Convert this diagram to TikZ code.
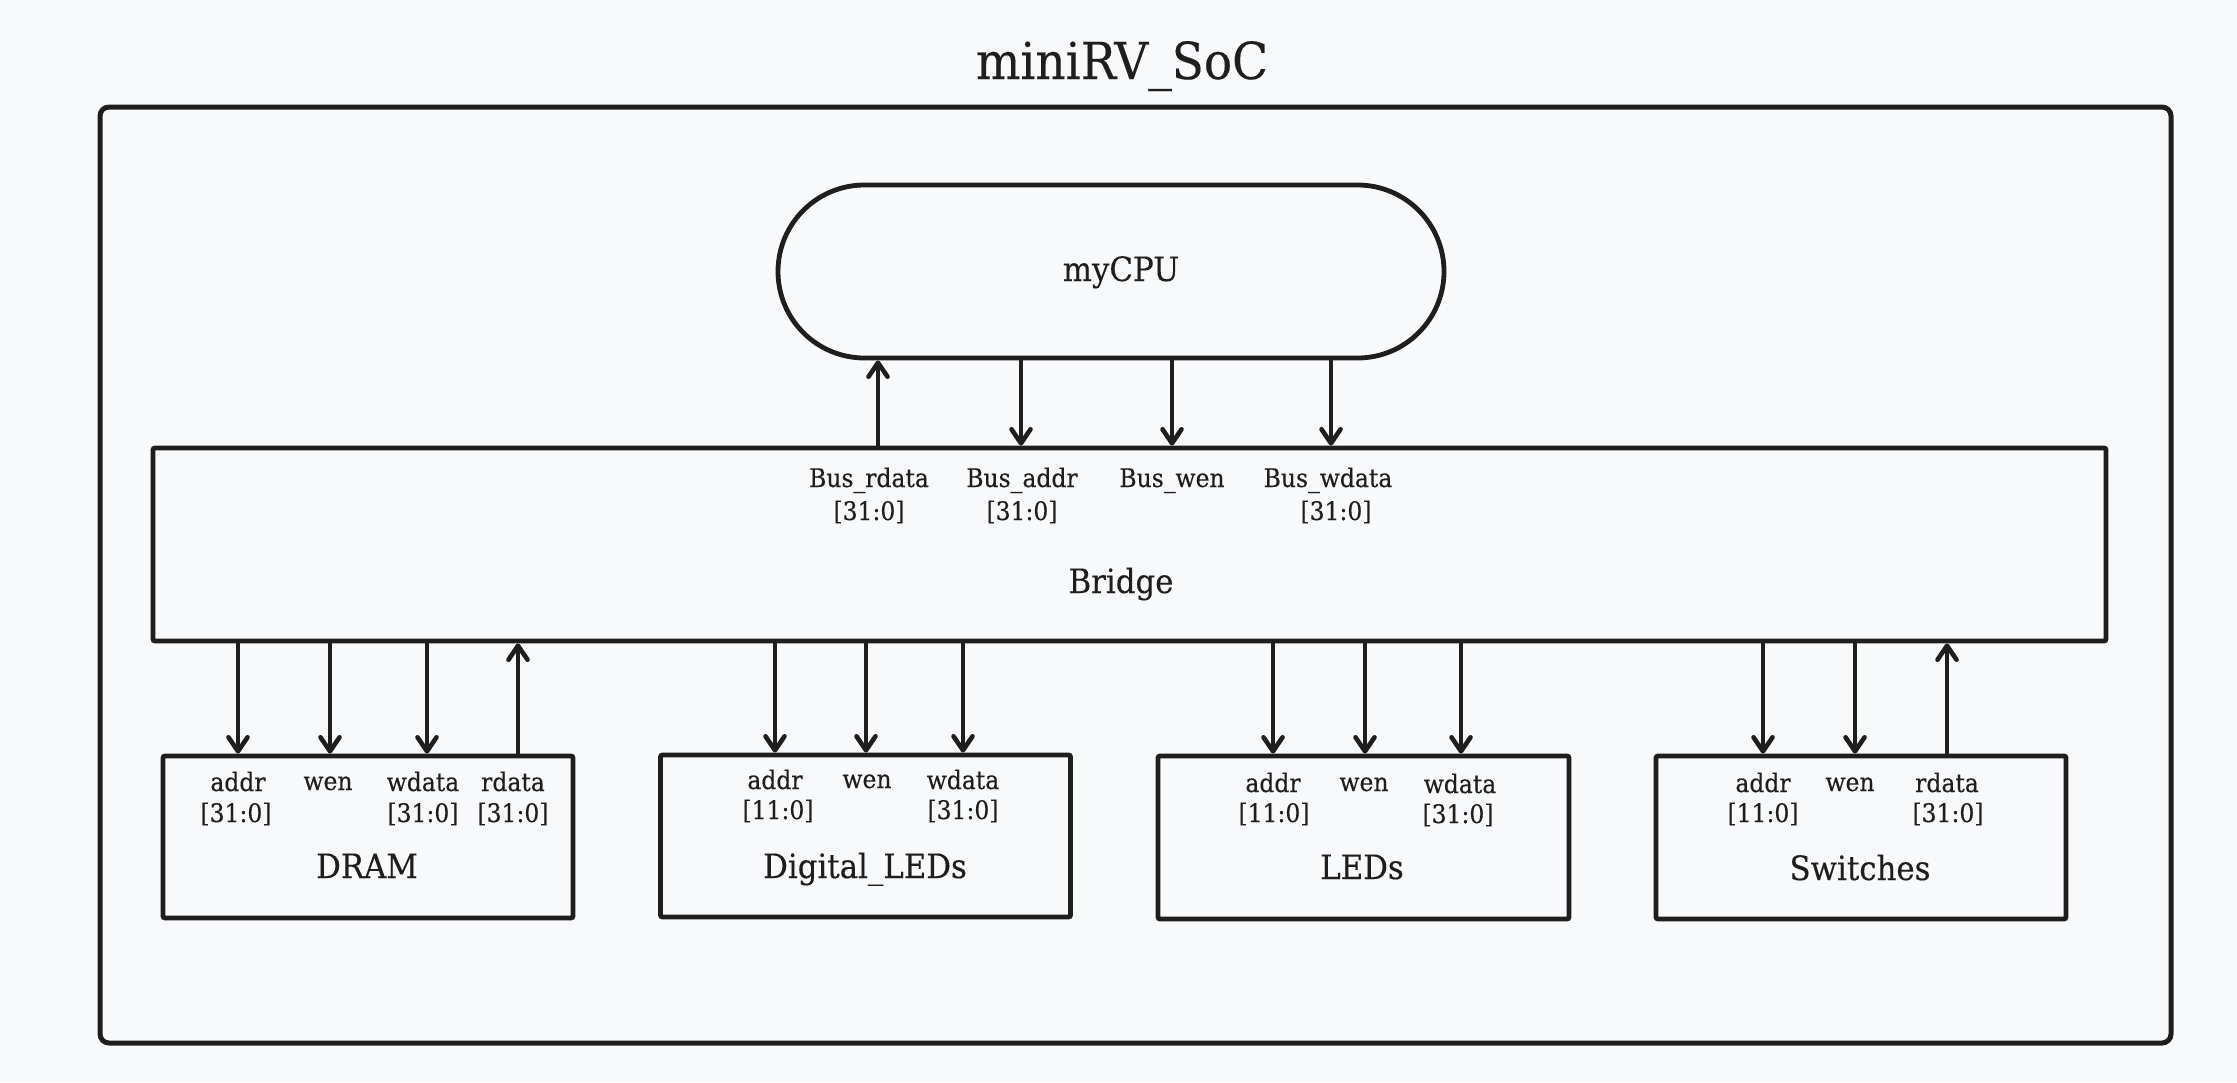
\documentclass[tikz,border=0pt]{standalone}
\usepackage{fontspec}
\setmainfont{DejaVu Serif}[FakeStretch=0.92,FakeBold=0.3]
\usetikzlibrary{arrows.meta}
\definecolor{ink}{HTML}{1E1E1E}
\definecolor{bg}{HTML}{F8F9FB}
\begin{document}
\begin{tikzpicture}[x=1pt,y=-1pt,
  box/.style={draw=ink, line width=4.8pt, rounded corners=2pt, inner sep=0pt},
  main/.style={font=\fontsize{33.5}{38}\selectfont, text=ink, anchor=base, inner sep=0pt},
  port/.style={font=\fontsize{25.5}{30}\selectfont, text=ink, anchor=base, inner sep=0pt},
  arr/.style={draw=ink, line width=4.6pt, -{Straight Barb[length=14pt,width=19pt,round]}}]
\fill[bg] (0,0) rectangle (2237,1082);
\useasboundingbox (0,0) rectangle (2237,1082);

% frame and title
\node[draw=ink, line width=5pt, rounded corners=9pt, minimum width=2071pt, minimum height=936pt, inner sep=0pt] (frame) at (1135.5,575) {};
\node[main, font=\fontsize{51}{56}\selectfont] (title) at (1122,79) {miniRV\_SoC};

% main blocks
\node[box, rounded corners=86.5pt, minimum width=666pt, minimum height=173pt] (cpu) at (1111,271.5) {};
\node[main] (cpulbl) at (1121,281) {myCPU};
\node[box, minimum width=1953pt, minimum height=193pt] (bridge) at (1129.5,544.5) {};
\node[main] (bridgelbl) at (1121,593) {Bridge};

\node[box, minimum width=410pt, minimum height=162pt] (dram) at (368,837) {};
\node[box, minimum width=410pt, minimum height=162pt] (dled) at (865.5,836) {};
\node[box, minimum width=411pt, minimum height=163pt] (leds) at (1363.5,837.5) {};
\node[box, minimum width=410pt, minimum height=163pt] (sw) at (1861,837.5) {};
\node[main] (dramlbl) at (367,878) {DRAM};
\node[main] (dledlbl) at (865,878) {Digital\_LEDs};
\node[main] (ledslbl) at (1362,879) {LEDs};
\node[main] (swlbl) at (1860,880) {Switches};

% CPU <-> Bridge
\draw[arr] (878,0 |- bridge.north) -- (878,0 |- cpu.south);
\draw[arr] (1021,0 |- cpu.south) -- (1021,0 |- bridge.north);
\draw[arr] (1172,0 |- cpu.south) -- (1172,0 |- bridge.north);
\draw[arr] (1331,0 |- cpu.south) -- (1331,0 |- bridge.north);

\node[port] (p1a) at (869,487) {Bus\_rdata};
\node[port] (p1b) at (869,520) {[31:0]};
\node[port] (p2a) at (1022,487) {Bus\_addr};
\node[port] (p2b) at (1022,520) {[31:0]};
\node[port] (p3a) at (1172,487) {Bus\_wen};
\node[port] (p4a) at (1328,487) {Bus\_wdata};
\node[port] (p4b) at (1336,520) {[31:0]};

% Bridge <-> DRAM
\draw[arr] (238,0 |- bridge.south) -- (238,0 |- dram.north);
\draw[arr] (330,0 |- bridge.south) -- (330,0 |- dram.north);
\draw[arr] (427,0 |- bridge.south) -- (427,0 |- dram.north);
\draw[arr] (518,0 |- dram.north) -- (518,0 |- bridge.south);
\node[port] (d1a) at (238,791) {addr};
\node[port] (d1b) at (236,822) {[31:0]};
\node[port] (d2a) at (328,790) {wen};
\node[port] (d3a) at (423,791) {wdata};
\node[port] (d3b) at (423,822) {[31:0]};
\node[port] (d4a) at (513,791) {rdata};
\node[port] (d4b) at (513,822) {[31:0]};

% Bridge -> Digital_LEDs
\draw[arr] (775,0 |- bridge.south) -- (775,0 |- dled.north);
\draw[arr] (866,0 |- bridge.south) -- (866,0 |- dled.north);
\draw[arr] (963,0 |- bridge.south) -- (963,0 |- dled.north);
\node[port] (g1a) at (775,789) {addr};
\node[port] (g1b) at (778,819) {[11:0]};
\node[port] (g2a) at (867,788) {wen};
\node[port] (g3a) at (963,789) {wdata};
\node[port] (g3b) at (963,819) {[31:0]};

% Bridge -> LEDs
\draw[arr] (1273,0 |- bridge.south) -- (1273,0 |- leds.north);
\draw[arr] (1365,0 |- bridge.south) -- (1365,0 |- leds.north);
\draw[arr] (1461,0 |- bridge.south) -- (1461,0 |- leds.north);
\node[port] (l1a) at (1273,792) {addr};
\node[port] (l1b) at (1274,822) {[11:0]};
\node[port] (l2a) at (1364,791) {wen};
\node[port] (l3a) at (1460,793) {wdata};
\node[port] (l3b) at (1458,823) {[31:0]};

% Bridge <-> Switches
\draw[arr] (1763,0 |- bridge.south) -- (1763,0 |- sw.north);
\draw[arr] (1855,0 |- bridge.south) -- (1855,0 |- sw.north);
\draw[arr] (1947,0 |- sw.north) -- (1947,0 |- bridge.south);
\node[port] (s1a) at (1763,792) {addr};
\node[port] (s1b) at (1763,822) {[11:0]};
\node[port] (s2a) at (1850,791) {wen};
\node[port] (s3a) at (1947,792) {rdata};
\node[port] (s3b) at (1948,822) {[31:0]};
\end{tikzpicture}
\end{document}
